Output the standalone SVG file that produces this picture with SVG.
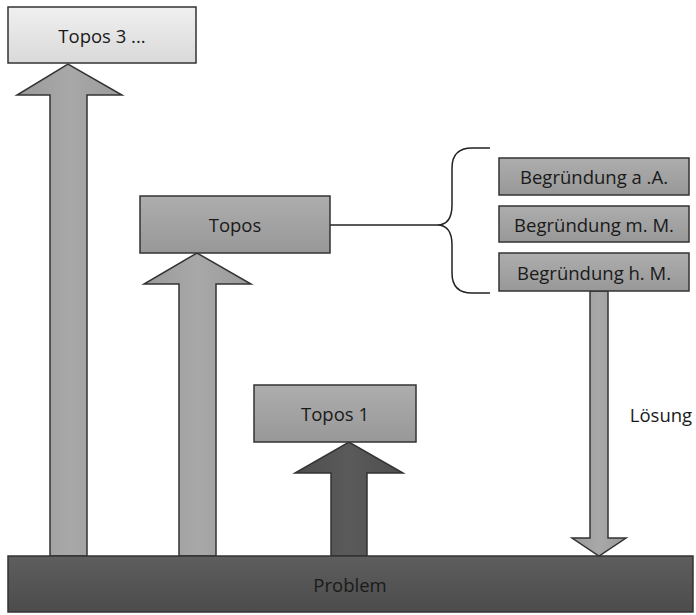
<svg xmlns="http://www.w3.org/2000/svg" width="696" height="615" viewBox="0 0 696 615">
<defs>
<linearGradient id="gLight" x1="0" y1="0" x2="0" y2="1"><stop offset="0" stop-color="#f0f0f0"/><stop offset="1" stop-color="#d9d9d9"/></linearGradient>
<linearGradient id="gMid" x1="0" y1="0" x2="0" y2="1"><stop offset="0" stop-color="#adadad"/><stop offset="1" stop-color="#989898"/></linearGradient>
<linearGradient id="gDark" x1="0" y1="0" x2="0" y2="1"><stop offset="0" stop-color="#5e5e5e"/><stop offset="1" stop-color="#4c4c4c"/></linearGradient>
<linearGradient id="gArrow" x1="0" y1="0" x2="1" y2="0"><stop offset="0" stop-color="#9a9a9a"/><stop offset="0.5" stop-color="#a8a8a8"/><stop offset="1" stop-color="#9a9a9a"/></linearGradient>
<linearGradient id="gArrowDark" x1="0" y1="0" x2="1" y2="0"><stop offset="0" stop-color="#4e4e4e"/><stop offset="0.5" stop-color="#5a5a5a"/><stop offset="1" stop-color="#4e4e4e"/></linearGradient>
</defs>
<style>
.box{stroke:#333;stroke-width:1.5}
.arr{stroke:#333;stroke-width:1.5;stroke-linejoin:miter}
text{font-family:"Open Sans","Liberation Sans",Arial,sans-serif;font-size:18.5px;fill:#1a1a1a;text-anchor:middle;dominant-baseline:central}
.line{fill:none;stroke:#222;stroke-width:1.5}
</style>
<g id="connectors">
<polygon class="arr" fill="url(#gArrow)" points="50,556 50,95 17,95 68,64 122,95 87,95 87,556"/>
<polygon class="arr" fill="url(#gArrow)" points="179,556 179,284 144,284 197,253 251,284 216,284 216,556"/>
<polygon class="arr" fill="url(#gArrowDark)" points="331,556 331,473 295,473 349,442 403,473 367,473 367,556"/>
<polygon class="arr" fill="url(#gArrow)" points="590,291 608,291 608,538 626,538 599,556 572,538 590,538"/>
<path class="line" d="M330,225 L437,225"/>
<path class="line" d="M490,148 L472,148 Q452,148 452,168 L452,205 Q452,225 437,225 Q452,225 452,245 L452,273 Q452,293 472,293 L490,293"/>
<text x="661" y="414">Lösung</text>
</g>
<g id="topos3"><rect class="box" x="8" y="7" width="188" height="56" fill="url(#gLight)"/><text x="102" y="35">Topos 3 ...</text></g>
<g id="topos"><rect class="box" x="140" y="196" width="190" height="57" fill="url(#gMid)"/><text x="235" y="224">Topos</text></g>
<g id="topos1"><rect class="box" x="254" y="385" width="162" height="57" fill="url(#gMid)"/><text x="335" y="413">Topos 1</text></g>
<g id="begr-aa"><rect class="box" x="499" y="158" width="190" height="37" fill="url(#gMid)"/><text x="594" y="176">Begründung a .A.</text></g>
<g id="begr-mm"><rect class="box" x="499" y="206" width="190" height="36" fill="url(#gMid)"/><text x="594" y="224">Begründung m. M.</text></g>
<g id="begr-hm"><rect class="box" x="499" y="253" width="190" height="38" fill="url(#gMid)"/><text x="594" y="272">Begründung h. M.</text></g>
<g id="problem"><rect class="box" x="8" y="556" width="685" height="56" fill="url(#gDark)"/><text x="350" y="584">Problem</text></g>
</svg>
